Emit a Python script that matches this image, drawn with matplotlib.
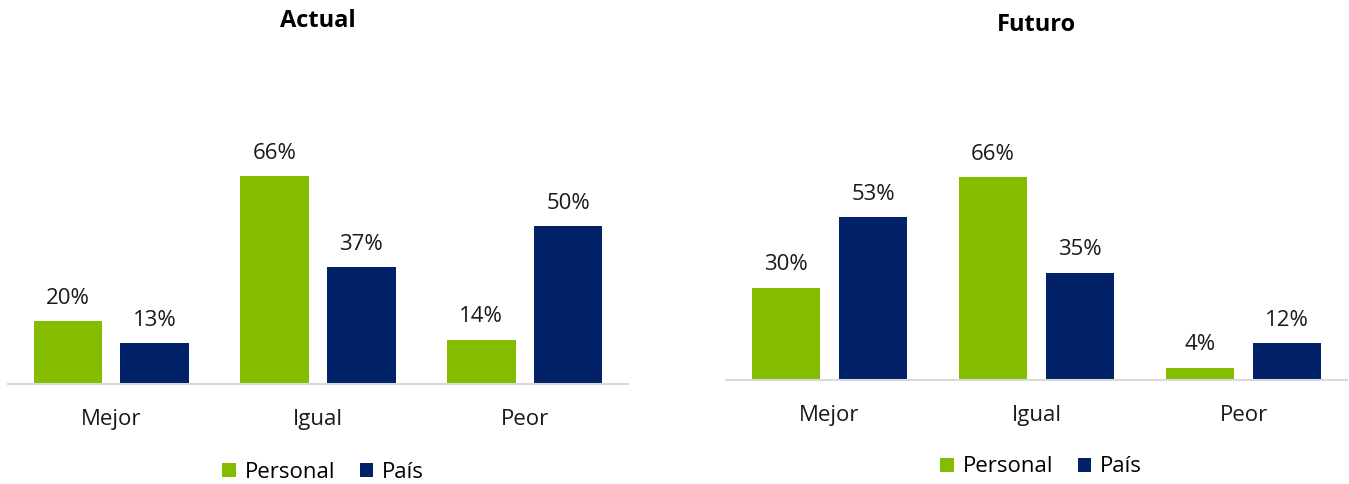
import matplotlib.pyplot as plt
import numpy as np

plt.rcParams['font.family'] = ['Open Sans', 'DejaVu Sans']

categories = ["Mejor", "Igual", "Peor"]
series_names = ["Personal", "País"]
actual_personal = [20, 66, 14]
actual_pais = [13, 37, 50]
futuro_personal = [30, 66, 4]
futuro_pais = [53, 35, 12]

green = "#84bd00"
navy = "#012169"

W, H = 1349, 484
fig = plt.figure(figsize=(W / 100, H / 100), dpi=100)


def panel(left, right, base, px_per_pct, title, title_y, personal, pais, legend_x, legend_y):
    top = base - 80 * px_per_pct
    ax = fig.add_axes([left / W, 1 - base / H, (right - left) / W, (base - top) / H])
    x = np.arange(len(categories))
    w = 0.333
    off = 0.21
    b1 = ax.bar(x - off, personal, w, color=green, label=series_names[0])
    b2 = ax.bar(x + off, pais, w, color=navy, label=series_names[1])
    for bars in (b1, b2):
        for r in bars:
            ax.annotate(f"{r.get_height():.0f}%", (r.get_x() + r.get_width() / 2, r.get_height()),
                        xytext=(0, 9), textcoords="offset points",
                        ha="center", va="bottom", fontsize=16, color="#1a1a1a")
    ax.set_xlim(-0.5, 2.5)
    ax.set_ylim(0, 80)
    ax.set_yticks([])
    ax.set_xticks(x)
    ax.set_xticklabels(categories, fontsize=16, color="#1a1a1a")
    ax.tick_params(axis="x", length=0, pad=18)
    for s in ["top", "right", "left"]:
        ax.spines[s].set_visible(False)
    ax.spines["bottom"].set_color("#d9d9d9")
    ax.spines["bottom"].set_linewidth(1.5)
    cx = (left + right) / 2 / W
    fig.text(cx, 1 - title_y / H, title, ha="center", va="center",
             fontsize=17, fontweight="bold", color="#000000")
    fig.legend(handles=[b1, b2], labels=series_names, loc="center",
               bbox_to_anchor=(legend_x / W, 1 - legend_y / H), ncol=2, frameon=False,
               fontsize=16, handlelength=0.6, handleheight=0.6,
               handletextpad=0.4, columnspacing=1.1)


panel(8, 628, 384, 3.15, "Actual", 21, actual_personal, actual_pais, 323, 472)
panel(726, 1347, 380, 3.07, "Futuro", 25, futuro_personal, futuro_pais, 1041, 467)

fig.savefig("out.png", dpi=100)
